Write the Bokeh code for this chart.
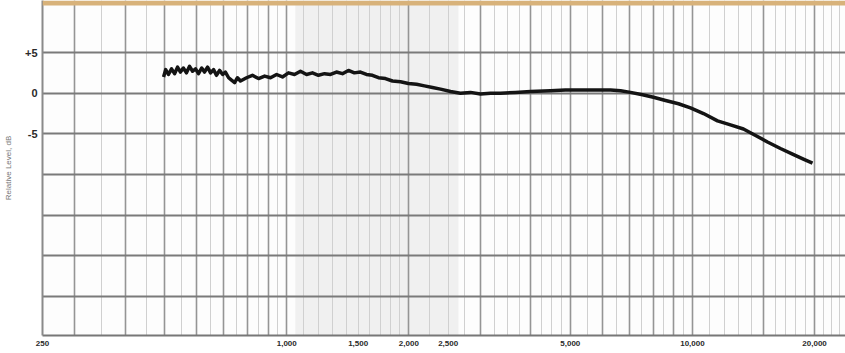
import numpy as np
from bokeh.plotting import figure
from bokeh.models import Range1d, FixedTicker, Label, BoxAnnotation
from bokeh.embed import file_html
from bokeh.resources import INLINE

# Frequency response (Hz, dB)
freq_hz = [497, 503, 511, 520, 529, 538, 547, 556, 566, 576, 586, 596, 606, 617,
           627, 638, 649, 660, 671, 683, 695, 706, 719, 731, 744, 756, 769,
           796, 823, 852, 882, 912, 944, 976, 1010, 1045, 1081,
           1119, 1157, 1197, 1239, 1282, 1326, 1372, 1419, 1468, 1519, 1572, 1626,
           1683, 1751, 1822, 1907, 1995, 2089, 2185, 2287, 2393, 2533, 2680, 2838,
           3003, 3179, 3365, 3663, 3990, 4468, 4864, 5298, 5768, 6280, 6650, 7035,
           7533, 8015, 8583, 9240, 9890, 10650, 11530, 12410, 13360, 14310, 15310,
           16480, 17650, 18770, 19770]
level_db = [2.0, 2.9, 2.3, 3.0, 2.4, 3.2, 2.6, 3.1, 2.5, 3.3, 2.7, 3.0, 2.4, 3.1,
            2.6, 3.2, 2.5, 2.9, 2.2, 2.8, 2.3, 2.6, 1.9, 1.6, 1.3, 1.9, 1.5,
            1.9, 2.2, 1.8, 2.1, 1.9, 2.3, 2.0, 2.5, 2.3, 2.7,
            2.3, 2.5, 2.2, 2.4, 2.3, 2.6, 2.4, 2.8, 2.5, 2.6, 2.3, 2.2,
            1.9, 1.8, 1.5, 1.4, 1.2, 1.1, 0.9, 0.7, 0.5, 0.2, 0.0, 0.1,
            -0.1, 0.0, 0.0, 0.1, 0.2, 0.3, 0.4, 0.4, 0.4, 0.4, 0.3, 0.1,
            -0.2, -0.5, -0.9, -1.3, -1.8, -2.5, -3.4, -3.9, -4.4, -5.2, -6.0,
            -6.8, -7.5, -8.1, -8.6]

x_tick_values = [250, 1000, 1500, 2000, 2500, 5000, 10000, 20000]
x_tick_labels = ["250", "1,000", "1,500", "2,000", "2,500", "5,000", "10,000", "20,000"]
y_tick_values = [-25, -20, -15, -10, -5, 0, 5, 10]
y_tick_labels = ["", "", "", "", "-5", "0", "+5", ""]

major_v = [300, 400, 500, 600, 700, 800, 900, 1000, 2000, 3000, 4000, 5000,
           6000, 7000, 8000, 9000, 10000, 15000, 20000]
minor_v = (list(range(250, 1000, 50)) + list(range(1000, 2000, 100)) +
           list(range(2000, 5000, 250)) + list(range(5000, 10000, 500)) +
           list(range(10000, 24000, 1000)))

Y_TOP, Y_BOT = 11.4, -29.8

p = figure(width=845, height=353, x_axis_type="log",
           x_range=Range1d(250, 23840), y_range=Range1d(Y_BOT, Y_TOP),
           output_backend="svg", toolbar_location=None,
           min_border_left=42, min_border_right=0, min_border_top=0,
           min_border_bottom=18)

p.background_fill_color = "#fdfdfd"
p.border_fill_color = "white"
p.outline_line_color = None

# photocopy shading band
p.quad(left=[1050], right=[2650], bottom=[Y_BOT], top=[Y_TOP],
       fill_color="#f0f0f0", line_color=None, level="image")

p.xgrid.ticker = FixedTicker(ticks=major_v, minor_ticks=minor_v)
p.xgrid.grid_line_color = "#959595"
p.xgrid.grid_line_width = 1.6
p.xgrid.minor_grid_line_color = "#d0d0d0"
p.xgrid.minor_grid_line_width = 1

p.ygrid.ticker = FixedTicker(ticks=[-25, -20, -15, -10, -5, 0, 5])
p.ygrid.grid_line_color = "#7a7a7a"
p.ygrid.grid_line_width = 2.2

p.line(freq_hz, level_db, line_color="#141414", line_width=3.5, line_join="round")

# wooden desk visible around the scanned sheet
wood = "#d8b27a"
p.add_layout(BoxAnnotation(top=Y_TOP, bottom=Y_TOP - 0.6, fill_color=wood,
                           fill_alpha=1, line_color=None))
p.add_layout(BoxAnnotation(left=0, right=15, top=0, bottom=70,
                           left_units="canvas", right_units="canvas",
                           top_units="canvas", bottom_units="canvas",
                           fill_color=wood, fill_alpha=1, line_color=None))
p.add_layout(BoxAnnotation(left=0, right=15, top=318, bottom=353,
                           left_units="canvas", right_units="canvas",
                           top_units="canvas", bottom_units="canvas",
                           fill_color=wood, fill_alpha=1, line_color=None))

p.xaxis.ticker = FixedTicker(ticks=x_tick_values)
p.xaxis.major_label_overrides = {v: l for v, l in zip(x_tick_values, x_tick_labels)}
p.xaxis.major_tick_out = 0
p.xaxis.major_tick_in = 0
p.xaxis.minor_tick_out = 0
p.xaxis.minor_tick_in = 0
p.xaxis.major_label_standoff = 5
p.xaxis.axis_line_color = "#777777"
p.xaxis.axis_line_width = 2
p.xaxis.major_label_text_font = "Liberation Sans"
p.xaxis.major_label_text_font_style = "bold"
p.xaxis.major_label_text_font_size = "8px"
p.xaxis.major_label_text_color = "#2a2a2a"

p.yaxis.ticker = FixedTicker(ticks=y_tick_values)
p.yaxis.major_label_overrides = {v: l for v, l in zip(y_tick_values, y_tick_labels)}
p.yaxis.major_tick_out = 0
p.yaxis.major_tick_in = 0
p.yaxis.minor_tick_out = 0
p.yaxis.minor_tick_in = 0
p.yaxis.major_label_standoff = 5
p.yaxis.axis_line_color = "#8a8a8a"
p.yaxis.axis_line_width = 2
p.yaxis.major_label_text_font = "Liberation Sans"
p.yaxis.major_label_text_font_style = "bold"
p.yaxis.major_label_text_font_size = "11px"
p.yaxis.major_label_text_color = "#2a2a2a"
p.yaxis.axis_label = "Relative Level, dB"
p.yaxis.axis_label_text_font = "Liberation Sans"
p.yaxis.axis_label_text_font_style = "normal"
p.yaxis.axis_label_text_font_size = "8px"
p.yaxis.axis_label_text_color = "#777777"
p.yaxis.axis_label_standoff = 9

p.add_layout(Label(x=34, y=306, x_units="canvas", y_units="canvas",
                   text="Volts", angle=np.pi / 2,
                   text_font="Liberation Sans", text_font_size="8px",
                   text_font_style="bold", text_color="#444444",
                   text_align="center", text_baseline="middle"))

open("out.html", "w").write(file_html(p, INLINE))
